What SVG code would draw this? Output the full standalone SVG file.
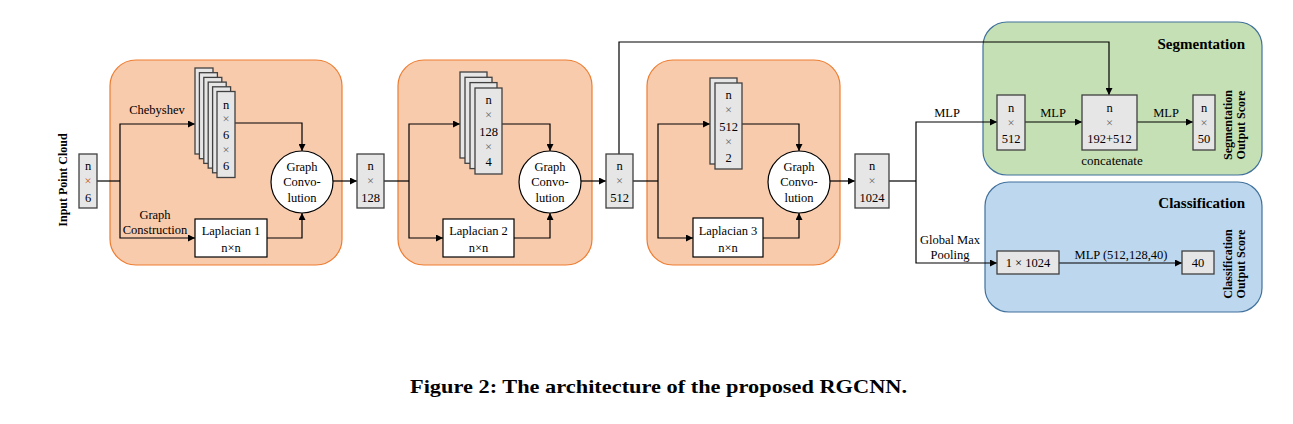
<svg xmlns="http://www.w3.org/2000/svg" width="1293" height="424" viewBox="0 0 1293 424">
<defs>
<marker id="ah" viewBox="0 0 10 10" refX="10" refY="5" markerWidth="7" markerHeight="7" markerUnits="userSpaceOnUse" orient="auto">
<path d="M0,0 L10,5 L0,10 z" fill="#000"/>
</marker>
<style>
.blk{fill:#F8CBAD;stroke:#ED7D31;stroke-width:1.2}
.seg{fill:#C5E0B4;stroke:#41719C;stroke-width:1.2}
.cls{fill:#BDD7EE;stroke:#41719C;stroke-width:1.2}
.gb{fill:#E7E6E6;stroke:#404040;stroke-width:1.3}
.wb{fill:#fff;stroke:#000;stroke-width:1.2}
.ln{fill:none;stroke:#000;stroke-width:1.2}
.lg{fill:none;stroke:#555;stroke-width:1.5}
.ar{marker-end:url(#ah)}
text{font-family:"Liberation Serif","Times New Roman",serif;font-size:12.5px;fill:#000;text-anchor:middle}
.x{fill:#666}
.xr{fill:#C55A11}
.b{font-weight:bold}
.t{font-weight:bold;font-size:15px;text-anchor:end}
.vt{font-weight:bold;font-size:12px}
</style>
</defs>
<rect width="1293" height="424" fill="#fff"/>

<g id="block1"><rect class="blk" x="110" y="60" width="232" height="205" rx="26"/></g>
<g id="block2"><rect class="blk" x="398" y="60" width="194" height="205" rx="26"/></g>
<g id="block3"><rect class="blk" x="647" y="60" width="193" height="205" rx="26"/></g>
<g id="segmentation"><rect class="seg" x="983" y="22" width="279" height="153" rx="24"/>
<text class="t" x="1245" y="49">Segmentation</text></g>
<g id="classification"><rect class="cls" x="985" y="182" width="277" height="130" rx="24"/>
<text class="t" x="1245" y="208">Classification</text></g>

<g id="connectors">
<polyline class="ln" points="97,181 120,181"/>
<polyline class="ln ar" points="120,181 120,124 195,124"/>
<polyline class="ln ar" points="120,181 120,238 195,238"/>
<polyline class="ln ar" points="235,123 302,123 302,151"/>
<polyline class="ln ar" points="267,238 302,238 302,213"/>
<line class="ln ar" x1="333" y1="181" x2="357" y2="181"/>
<polyline class="ln" points="384,181 409,181"/>
<polyline class="ln ar" points="409,181 409,124 460,124"/>
<polyline class="ln ar" points="409,181 409,238 443,238"/>
<polyline class="ln ar" points="502,124 550,124 550,151"/>
<polyline class="ln ar" points="514,238 550,238 550,213"/>
<line class="ln ar" x1="581" y1="181" x2="606" y2="181"/>
<polyline class="ln" points="633,181 658,181"/>
<polyline class="ln ar" points="658,181 658,124 710,124"/>
<polyline class="ln ar" points="658,181 658,238 693,238"/>
<polyline class="ln ar" points="742,124 799,124 799,151"/>
<polyline class="ln ar" points="763,238 799,238 799,213"/>
<line class="ln ar" x1="830" y1="181" x2="855" y2="181"/>
<polyline class="ln" points="889,181 916,181"/>
<polyline class="ln ar" points="916,181 916,122 997,122"/>
<polyline class="ln ar" points="916,181 916,263 997,263"/>
<polyline class="ln ar" points="619,154 619,42 1109,42 1109,95"/>
<line class="ln ar" x1="1025" y1="122" x2="1082" y2="122"/>
<line class="ln ar" x1="1137" y1="122" x2="1193" y2="122"/>
<line class="ln ar" x1="1059" y1="263" x2="1182" y2="263"/>
<text x="157" y="114">Chebyshev</text>
<text x="155" y="219">Graph</text>
<text x="155" y="234">Construction</text>
<text x="947" y="117">MLP</text>
<text x="1053" y="117">MLP</text>
<text x="1166" y="117">MLP</text>
<text x="950" y="244">Global Max</text>
<text x="950" y="259">Pooling</text>
<text x="1121" y="259">MLP (512,128,40)</text>
</g>

<g id="input">
<text class="b" style="font-size:12px" transform="translate(67,180) rotate(-90)">Input Point Cloud</text>
<rect class="gb" x="79" y="154" width="18" height="54"/>
<text x="88" y="170">n</text><text class="xr" x="88" y="185">×</text><text x="88" y="202">6</text>
</g>

<g id="cheb1">
<rect class="gb" x="195" y="68" width="18" height="86"/>
<rect class="gb" x="199.4" y="72.7" width="18" height="86"/>
<rect class="gb" x="203.8" y="77.4" width="18" height="86"/>
<rect class="gb" x="208.2" y="82.1" width="18" height="86"/>
<rect class="gb" x="212.6" y="86.8" width="18" height="86"/>
<rect class="gb" x="217" y="91.5" width="18" height="86"/>
<text x="226" y="109">n</text><text class="x" x="226" y="123">×</text><text x="226" y="139">6</text><text class="x" x="226" y="154">×</text><text x="226" y="170">6</text>
</g>
<g id="gc1"><circle class="wb" cx="302" cy="182" r="31"/>
<text x="302" y="171">Graph</text><text x="302" y="186">Convo-</text><text x="302" y="202">lution</text></g>
<g id="lap1"><rect class="wb" x="195" y="219" width="72" height="38"/>
<text x="231" y="235">Laplacian 1</text><text x="231" y="252">n×n</text></g>

<g id="f128"><rect class="gb" x="357" y="154" width="27" height="54"/>
<text x="370.5" y="170">n</text><text class="x" x="370.5" y="185">×</text><text x="370.5" y="202">128</text></g>

<g id="cheb2">
<rect class="gb" x="460" y="72" width="27" height="86"/>
<rect class="gb" x="465" y="77.3" width="27" height="86"/>
<rect class="gb" x="470" y="82.6" width="27" height="86"/>
<rect class="gb" x="475" y="88" width="27" height="86"/>
<text x="488.5" y="104">n</text><text class="x" x="488.5" y="119">×</text><text x="488.5" y="136">128</text><text class="x" x="488.5" y="151">×</text><text x="488.5" y="166">4</text>
</g>
<g id="gc2"><circle class="wb" cx="550" cy="182" r="31"/>
<text x="550" y="171">Graph</text><text x="550" y="186">Convo-</text><text x="550" y="202">lution</text></g>
<g id="lap2"><rect class="wb" x="443" y="219" width="71" height="38"/>
<text x="478.5" y="235">Laplacian 2</text><text x="478.5" y="252">n×n</text></g>

<g id="f512"><rect class="gb" x="606" y="154" width="27" height="54"/>
<text x="619.5" y="170">n</text><text class="x" x="619.5" y="185">×</text><text x="619.5" y="202">512</text></g>

<g id="cheb3">
<rect class="gb" x="710" y="78" width="27" height="86"/>
<rect class="gb" x="715" y="83" width="27" height="86"/>
<text x="728.5" y="99">n</text><text class="x" x="728.5" y="114">×</text><text x="728.5" y="131">512</text><text class="x" x="728.5" y="146">×</text><text x="728.5" y="162">2</text>
</g>
<g id="gc3"><circle class="wb" cx="799" cy="182" r="31"/>
<text x="799" y="171">Graph</text><text x="799" y="186">Convo-</text><text x="799" y="202">lution</text></g>
<g id="lap3"><rect class="wb" x="693" y="218" width="70" height="39"/>
<text x="728" y="235">Laplacian 3</text><text x="728" y="252">n×n</text></g>

<g id="f1024"><rect class="gb" x="855" y="154" width="34" height="54"/>
<text x="872" y="170">n</text><text class="x" x="872" y="185">×</text><text x="872" y="202">1024</text></g>

<g id="seg512"><rect class="gb" x="997" y="95" width="28" height="55"/>
<text x="1011" y="112">n</text><text class="x" x="1011" y="127">×</text><text x="1011" y="143">512</text></g>
<g id="concat"><rect class="gb" x="1082" y="95" width="55" height="55"/>
<text x="1109.5" y="112">n</text><text class="x" x="1109.5" y="127">×</text><text x="1109.5" y="143">192+512</text>
<text x="1112" y="165" style="font-size:13px">concatenate</text></g>
<g id="seg50"><rect class="gb" x="1193" y="95" width="22" height="55"/>
<text x="1204" y="112">n</text><text class="x" x="1204" y="127">×</text><text x="1204" y="143">50</text>
<text class="vt" transform="translate(1232,125) rotate(-90)">Segmentation</text>
<text class="vt" transform="translate(1245,125) rotate(-90)">Output Score</text></g>

<g id="gmp"><rect class="gb" x="997" y="251" width="62" height="23"/>
<text x="1028" y="267">1 × 1024</text></g>
<g id="cls40"><rect class="gb" x="1182" y="251" width="32" height="23"/>
<text x="1198" y="267">40</text>
<text class="vt" transform="translate(1232,264) rotate(-90)">Classification</text>
<text class="vt" transform="translate(1245,264) rotate(-90)">Output Score</text></g>

<g id="caption"><text class="b" x="658.5" y="393" style="font-size:19px" textLength="497" lengthAdjust="spacingAndGlyphs">Figure 2: The architecture of the proposed RGCNN.</text></g>
</svg>
